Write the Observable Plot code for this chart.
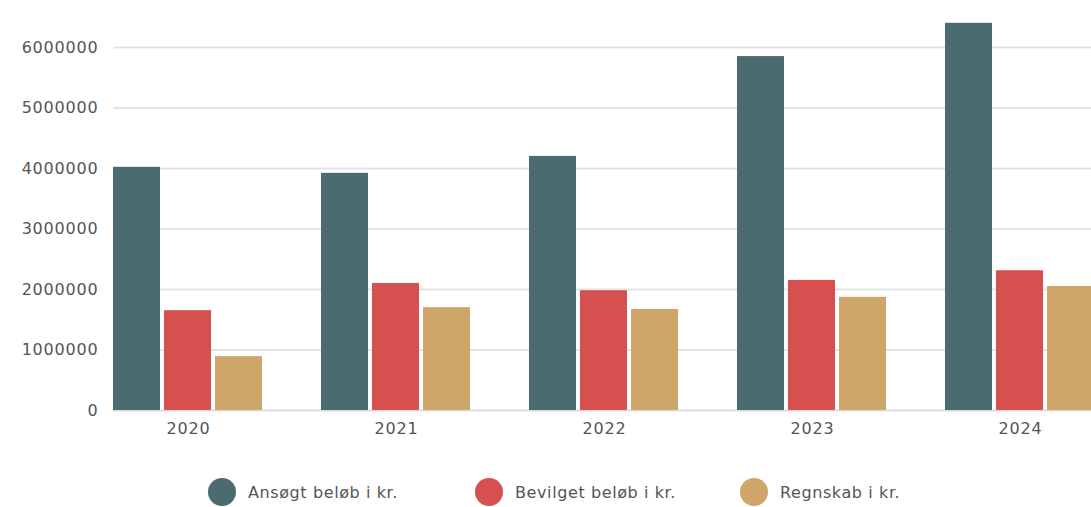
<!DOCTYPE html>
<html>
<head>
<meta charset="utf-8">
<script src="https://cdn.jsdelivr.net/npm/d3@7"></script>
<script src="https://cdn.jsdelivr.net/npm/@observablehq/plot@0.6"></script>
<style>
  html, body { margin: 0; padding: 0; background: #fff; }
  #chart { width: 1091px; height: 507px; position: relative; overflow: hidden; }
  .legend { position: absolute; left: 0; top: 477px; width: 1091px; height: 30px; font-family: "DejaVu Sans", sans-serif; font-size: 16px; letter-spacing: 0.6px; color: #555; }
  .legend .item { position: absolute; top: 0; display: flex; align-items: center; height: 30px; }
  .legend .dot { width: 28px; height: 28px; border-radius: 50%; margin-right: 12px; }
</style>
</head>
<body>
<div id="chart"></div>
<script>
const years = ["2020", "2021", "2022", "2023", "2024"];
const seriesNames = ["Ansøgt beløb i kr.", "Bevilget beløb i kr.", "Regnskab i kr."];
const ansoegt = [4020000, 3920000, 4200000, 5850000, 6400000];
const bevilget = [1650000, 2100000, 1980000, 2150000, 2310000];
const regnskab = [890000, 1700000, 1670000, 1870000, 2050000];
const colors = ["#4a6b6f", "#d65050", "#cfa66a"];
const yTicks = [0, 1000000, 2000000, 3000000, 4000000, 5000000, 6000000];

const seriesValues = [ansoegt, bevilget, regnskab];
const data = [];
years.forEach((y, i) => {
  seriesNames.forEach((s, j) => data.push({year: y, series: s, value: seriesValues[j][i]}));
});
const gridData = [];
years.forEach(y => yTicks.forEach(t => gridData.push({year: y, tick: t})));
const firstGrid = gridData.filter(d => d.year === years[0]);
const restGrid = gridData.filter(d => d.year !== years[0]);

const font = "DejaVu Sans, sans-serif";
const gridStyle = d => d.tick === 0 ? "#dcdcdc" : "#e4e4e4";
const chart = Plot.plot({
  width: 1091,
  height: 460,
  marginLeft: 112,
  marginRight: -4,
  marginTop: 10.7,
  marginBottom: 50,
  style: {fontFamily: font, fontSize: "16px", color: "#555", background: "#fff"},
  fx: {domain: years, paddingInner: 0.28, paddingOuter: 0, label: null, tickSize: 0, tickPadding: 12},
  x: {domain: seriesNames, paddingInner: 0.07, paddingOuter: 0, axis: null},
  y: {domain: [0, 6600000], ticks: yTicks, tickFormat: d3.format("d"), tickSize: 0, tickPadding: 15, label: null, grid: false},
  color: {domain: seriesNames, range: colors},
  marks: [
    Plot.ruleY(firstGrid, {fx: "year", y: "tick", stroke: gridStyle, strokeWidth: 2, insetRight: -29}),
    Plot.ruleY(restGrid, {fx: "year", y: "tick", stroke: gridStyle, strokeWidth: 2, insetLeft: -29, insetRight: -29}),
    Plot.barY(data, {fx: "year", x: "series", y: "value", fill: "series"})
  ]
});
const root = document.getElementById("chart");
root.appendChild(chart);
chart.querySelectorAll("text").forEach(t => t.setAttribute("letter-spacing", "0.8"));

const legend = document.createElement("div");
legend.className = "legend";
const lefts = [208, 475, 740];
seriesNames.forEach((s, i) => {
  const item = document.createElement("div");
  item.className = "item";
  item.style.left = lefts[i] + "px";
  const dot = document.createElement("div");
  dot.className = "dot";
  dot.style.background = colors[i];
  const label = document.createElement("span");
  label.textContent = s;
  item.appendChild(dot);
  item.appendChild(label);
  legend.appendChild(item);
});
root.appendChild(legend);
</script>
</body>
</html>
